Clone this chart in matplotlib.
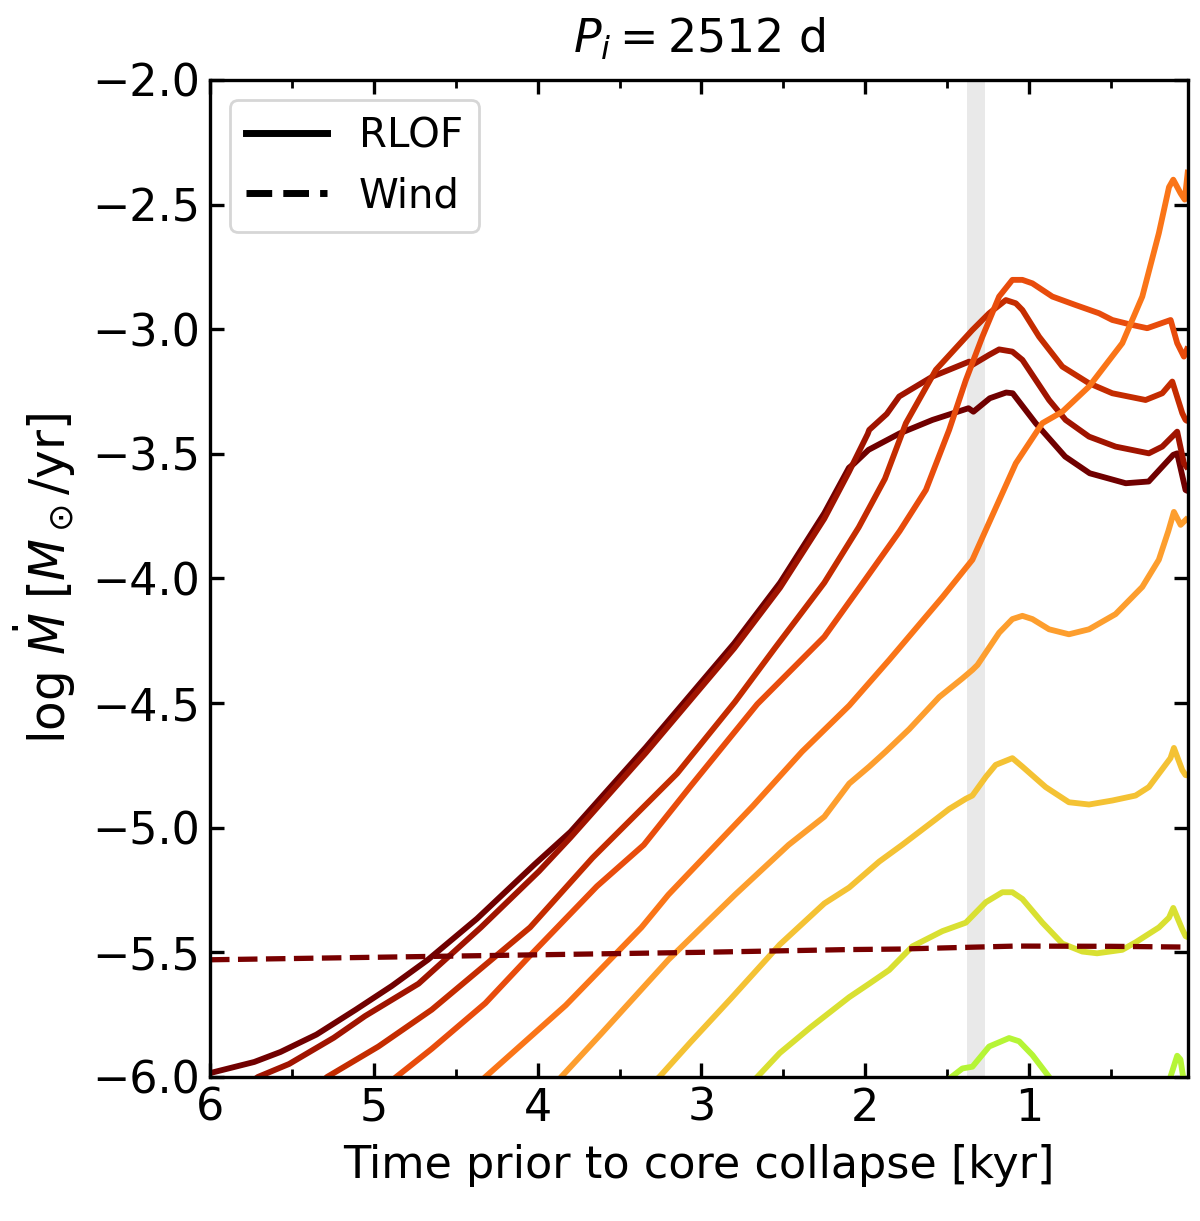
import numpy as np
import matplotlib
matplotlib.use("Agg")
import matplotlib.pyplot as plt
from matplotlib.lines import Line2D
from matplotlib.ticker import MultipleLocator

# time prior to core collapse [kyr] and log Mdot for the RLOF tracks
t1 = [6.00, 5.99, 5.73, 5.57, 5.35, 5.11, 4.89, 4.67, 4.37, 4.02, 3.80, 3.34, 3.07, 2.80, 2.52, 2.25,
      2.10, 2.07, 1.98, 1.79, 1.59, 1.37, 1.34, 1.24, 1.14, 1.10, 0.96, 0.78, 0.63, 0.41, 0.27, 0.12,
      0.096, 0.045, 0.03]
m1 = [-5.985, -5.983, -5.94, -5.90, -5.83, -5.73, -5.635, -5.53, -5.365, -5.148, -5.017, -4.678,
      -4.469, -4.26, -4.017, -3.738, -3.556, -3.54, -3.484, -3.418, -3.364, -3.317, -3.331, -3.277,
      -3.254, -3.257, -3.377, -3.511, -3.578, -3.618, -3.611, -3.504, -3.498, -3.645, -3.65]

t2 = [5.75, 5.707, 5.517, 5.245, 5.054, 4.727, 4.346, 3.992, 3.80, 3.34, 3.07, 2.80, 2.52, 2.25,
      2.10, 1.985, 1.976, 1.869, 1.793, 1.59, 1.366, 1.346, 1.244, 1.183, 1.102, 1.041, 0.878, 0.777,
      0.634, 0.472, 0.269, 0.187, 0.096, 0.055, 0.03]
m2 = [-6.02, -6.0, -5.948, -5.843, -5.756, -5.626, -5.40, -5.175, -5.04, -4.70, -4.49, -4.28,
      -4.037, -3.76, -3.573, -3.42, -3.404, -3.34, -3.27, -3.19, -3.13, -3.143, -3.103, -3.081,
      -3.09, -3.123, -3.284, -3.364, -3.431, -3.471, -3.498, -3.471, -3.411, -3.538, -3.56]

t3 = [5.32, 5.285, 4.972, 4.646, 4.046, 3.665, 3.148, 2.795, 2.55, 2.25, 2.04, 1.88, 1.752, 1.569,
      1.346, 1.244, 1.142, 1.081, 1.041, 0.939, 0.797, 0.634, 0.492, 0.289, 0.187, 0.126, 0.065,
      0.045, 0.03]
m3 = [-6.02, -6.0, -5.878, -5.73, -5.40, -5.121, -4.782, -4.495, -4.278, -4.017, -3.795, -3.60,
      -3.377, -3.163, -3.003, -2.936, -2.883, -2.896, -2.923, -3.03, -3.15, -3.217, -3.257, -3.284,
      -3.257, -3.21, -3.337, -3.364, -3.37]

t4 = [4.90, 4.863, 4.646, 4.319, 4.046, 3.638, 3.352, 3.067, 2.659, 2.25, 2.032, 1.79, 1.63, 1.488,
      1.386, 1.285, 1.183, 1.102, 1.041, 0.98, 0.858, 0.716, 0.573, 0.492, 0.37, 0.279, 0.136,
      0.096, 0.055, 0.03]
m4 = [-6.02, -6.0, -5.887, -5.704, -5.513, -5.235, -5.069, -4.834, -4.504, -4.234, -4.034, -3.81,
      -3.645, -3.404, -3.204, -3.03, -2.869, -2.802, -2.802, -2.816, -2.869, -2.903, -2.936, -2.963,
      -2.983, -2.996, -2.963, -3.056, -3.11, -3.07]

t5 = [4.35, 4.319, 3.829, 3.366, 3.202, 2.686, 2.386, 2.098, 1.854, 1.529, 1.346, 1.264, 1.081,
      0.919, 0.797, 0.634, 0.431, 0.309, 0.208, 0.146, 0.12, 0.075, 0.05, 0.03]
m5 = [-6.02, -6.0, -5.713, -5.40, -5.269, -4.913, -4.695, -4.51, -4.327, -4.075, -3.925, -3.805,
      -3.538, -3.377, -3.331, -3.23, -3.056, -2.869, -2.615, -2.43, -2.40, -2.455, -2.48, -2.36]

t6 = [3.88, 3.856, 3.611, 3.202, 2.795, 2.468, 2.25, 2.098, 1.976, 1.874, 1.732, 1.549, 1.407,
      1.346, 1.315, 1.183, 1.102, 1.041, 0.98, 0.878, 0.757, 0.634, 0.472, 0.309, 0.208, 0.15,
      0.116, 0.075, 0.03]
m6 = [-6.02, -6.0, -5.826, -5.53, -5.269, -5.069, -4.956, -4.823, -4.755, -4.694, -4.605, -4.476,
      -4.401, -4.367, -4.347, -4.218, -4.163, -4.15, -4.163, -4.204, -4.224, -4.204, -4.143, -4.034,
      -3.925, -3.81, -3.733, -3.785, -3.756]

t7 = [3.29, 3.257, 3.067, 2.822, 2.522, 2.25, 2.098, 1.915, 1.773, 1.569, 1.488, 1.386, 1.346,
      1.264, 1.204, 1.102, 1.041, 0.899, 0.757, 0.634, 0.492, 0.35, 0.269, 0.137, 0.116, 0.065,
      0.045, 0.03]
m7 = [-6.02, -6.0, -5.861, -5.687, -5.469, -5.304, -5.24, -5.136, -5.068, -4.966, -4.925, -4.884,
      -4.871, -4.796, -4.748, -4.721, -4.755, -4.837, -4.898, -4.907, -4.891, -4.871, -4.837, -4.721,
      -4.68, -4.769, -4.789, -4.79]

t8 = [2.69, 2.659, 2.522, 2.332, 2.098, 1.976, 1.854, 1.712, 1.529, 1.386, 1.264, 1.163, 1.102,
      1.041, 0.919, 0.797, 0.675, 0.585, 0.431, 0.35, 0.207, 0.146, 0.12, 0.065, 0.045, 0.03]
m8 = [-6.02, -6.0, -5.904, -5.80, -5.68, -5.626, -5.571, -5.476, -5.415, -5.381, -5.299, -5.259,
      -5.259, -5.286, -5.381, -5.465, -5.497, -5.504, -5.49, -5.46, -5.40, -5.361, -5.322, -5.408,
      -5.435, -5.44]

t9 = [1.56, 1.509, 1.407, 1.346, 1.244, 1.122, 1.061, 0.98, 0.878, 0.84, 0.5, 0.17, 0.147, 0.096,
      0.076, 0.055, 0.04]
m9 = [-6.05, -6.018, -5.966, -5.959, -5.878, -5.844, -5.857, -5.912, -6.0, -6.05, np.nan, -6.06,
      -6.02, -5.915, -5.93, -6.02, -6.06]

# wind mass loss
t_wind = [6.0, 5.0, 4.0, 3.0, 2.098, 1.793, 1.081, 0.5, 0.044, 0.03]
m_wind = [-5.53, -5.52, -5.51, -5.50, -5.489, -5.487, -5.475, -5.476, -5.479, -5.48]

tracks = [(t1, m1), (t2, m2), (t3, m3), (t4, m4), (t5, m5), (t6, m6), (t7, m7), (t8, m8), (t9, m9)]
colors = ["#700000", "#a01400", "#c42c00", "#e84c0c", "#fa7518", "#fd9e2e", "#f4c234", "#d9e032",
          "#b5f536"]

fig = plt.figure(figsize=(6.0, 6.105), dpi=200)
ax = fig.add_axes([0.175, 0.118, 0.815, 0.8165])

ax.axvspan(1.27, 1.38, color="#e9e9e9", lw=0, zorder=0)

for (t, m), c in zip(tracks, colors):
    ax.plot(t, m, color=c, lw=2.1, solid_capstyle="butt", solid_joinstyle="round")

ax.plot(t_wind, m_wind, color="#780000", lw=1.9, ls="--")

ax.set_xlim(6, 0.03)
ax.set_ylim(-6, -2)
ax.set_xticks([6, 5, 4, 3, 2, 1])
ax.xaxis.set_minor_locator(MultipleLocator(0.5))
ax.set_yticks(np.arange(-6, -1.99, 0.5))
ax.tick_params(which="both", direction="in", top=True, right=True, labelsize=16)
ax.tick_params(which="major", length=5, width=1.2)
ax.tick_params(which="minor", length=3, width=1.0)
for s in ax.spines.values():
    s.set_linewidth(1.2)

ax.set_xlabel("Time prior to core collapse [kyr]", fontsize=16, labelpad=5)
ax.set_ylabel(r"$\log\,\dot{M}\;[M_\odot/\mathrm{yr}]$", fontsize=17.5, labelpad=5)
ax.set_title(r"$P_i = 2512$ d", fontsize=16.5, pad=10)

handles = [Line2D([], [], color="black", lw=2.5, ls="-"),
           Line2D([], [], color="black", lw=2.5, ls="--")]
ax.legend(handles, ["RLOF", "Wind"], loc="upper left", fontsize=14.5)

fig.savefig("out.png", dpi=200)
